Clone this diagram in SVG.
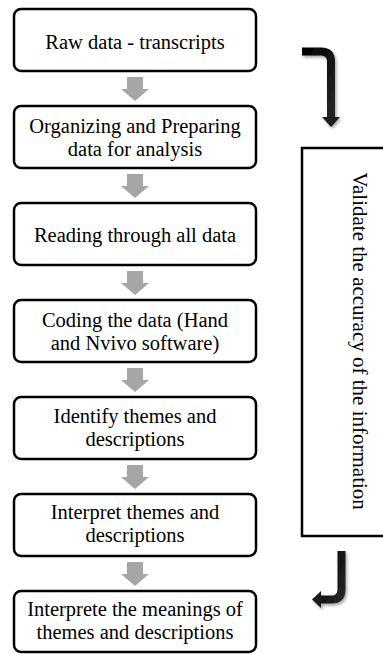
<svg xmlns="http://www.w3.org/2000/svg" width="383" height="654" viewBox="0 0 383 654">
  <style>
    .box { fill: #ffffff; stroke: #000000; stroke-width: 2.5; }
    .lbl { font-family: "Liberation Serif", "DejaVu Serif", "Times New Roman", serif; font-size: 20.5px; fill: #000000; text-anchor: middle; }
    .step { fill: #a6a6a6; }
    .loop { fill: none; stroke: url(#loopGrad); stroke-width: 8; }
    .loopHead { fill: #1a1a1a; }
  </style>
  <defs>
    <linearGradient id="loopGrad" x1="0" y1="0" x2="1" y2="1">
      <stop offset="0" stop-color="#000000"/>
      <stop offset="1" stop-color="#262626"/>
    </linearGradient>
    <filter id="shadow" x="-50%" y="-50%" width="200%" height="200%">
      <feDropShadow dx="1.5" dy="2" stdDeviation="1.5" flood-color="#000000" flood-opacity="0.35"/>
    </filter>
    <!-- thick grey down arrow between steps -->
    <polygon id="downArrow" class="step" points="127,0 143,0 143,12 149,12 135,24 121,12 127,12"/>
  </defs>

  <rect width="383" height="654" fill="#ffffff"/>

  <!-- process steps -->
  <g id="node-raw">
    <rect class="box" x="14" y="9" width="242" height="62" rx="7"/>
    <text class="lbl" x="135" y="49">Raw data - transcripts</text>
  </g>
  <g id="node-organize">
    <rect class="box" x="14" y="106" width="242" height="62" rx="7"/>
    <text class="lbl"><tspan x="135" y="132.5">Organizing and Preparing</tspan><tspan x="135" y="155.5">data for analysis</tspan></text>
  </g>
  <g id="node-read">
    <rect class="box" x="14" y="203" width="242" height="62" rx="7"/>
    <text class="lbl" x="135" y="242">Reading through all data</text>
  </g>
  <g id="node-code">
    <rect class="box" x="14" y="300" width="242" height="62" rx="7"/>
    <text class="lbl"><tspan x="135" y="326.5">Coding the data (Hand</tspan><tspan x="135" y="349.5">and Nvivo software)</tspan></text>
  </g>
  <g id="node-identify">
    <rect class="box" x="14" y="397" width="242" height="62" rx="7"/>
    <text class="lbl"><tspan x="135" y="422.5">Identify themes and</tspan><tspan x="135" y="445.5">descriptions</tspan></text>
  </g>
  <g id="node-interpret">
    <rect class="box" x="14" y="494" width="242" height="62" rx="7"/>
    <text class="lbl"><tspan x="135" y="518.5">Interpret themes and</tspan><tspan x="135" y="541.5">descriptions</tspan></text>
  </g>
  <g id="node-meanings">
    <rect class="box" x="14" y="591" width="242" height="61" rx="7"/>
    <text class="lbl"><tspan x="135" y="615.5">Interprete the meanings of</tspan><tspan x="135" y="638.5">themes and descriptions</tspan></text>
  </g>

  <!-- validation side panel -->
  <g id="node-validate">
    <rect class="box" x="302" y="148" width="100" height="388" stroke-width="2"/>
    <text class="lbl" style="font-size:21px" transform="translate(353,341) rotate(90)" x="0" y="0">Validate the accuracy of the information</text>
  </g>

  <!-- connectors -->
  <g id="connectors">
    <use href="#downArrow" y="77"/>
    <use href="#downArrow" y="174"/>
    <use href="#downArrow" y="271"/>
    <use href="#downArrow" y="368"/>
    <use href="#downArrow" y="465"/>
    <use href="#downArrow" y="562"/>

    <g filter="url(#shadow)">
      <path class="loop" d="M302,51.5 H321 Q331,51.5 331,61.5 V118"/>
      <polygon class="loopHead" points="322,117 340,117 331,127"/>
    </g>
    <g filter="url(#shadow)">
      <path class="loop" d="M341.5,551 V589.5 Q341.5,599.5 331.5,599.5 H320"/>
      <polygon class="loopHead" points="321,591 321,608 312,599.5"/>
    </g>
  </g>
</svg>
